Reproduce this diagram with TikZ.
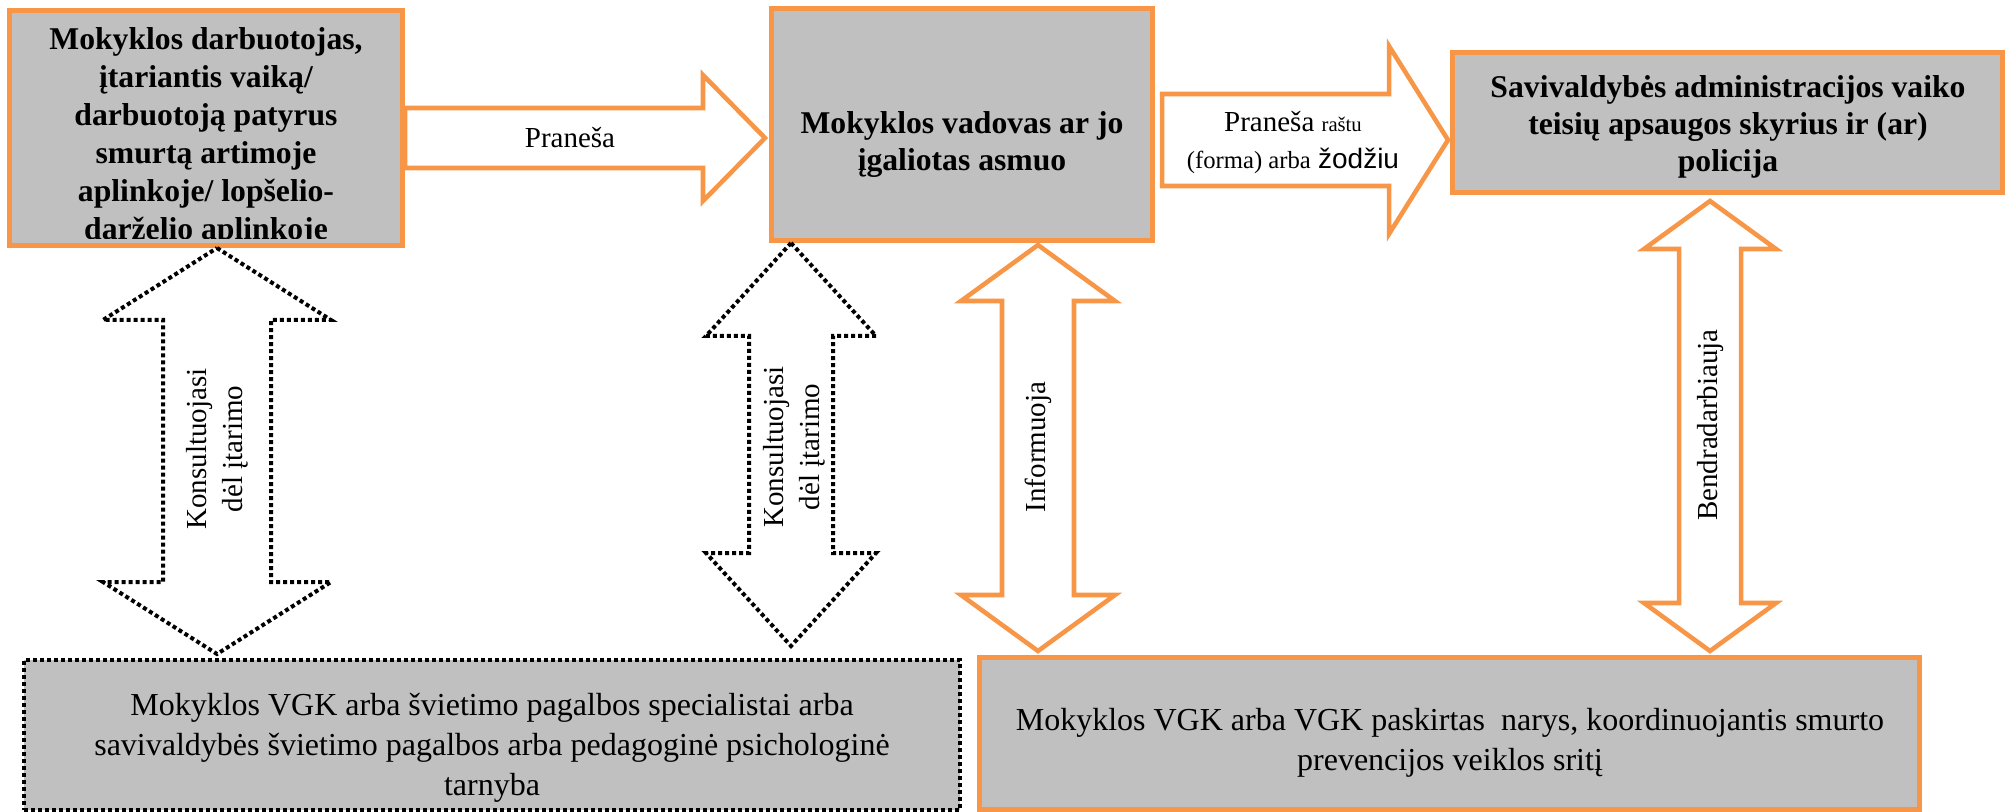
\documentclass[tikz,border=0pt]{standalone}
\usepackage{fontspec}
\setmainfont{Liberation Serif}
\newfontfamily\wordsans{Liberation Sans}
\usetikzlibrary{calc}
\definecolor{boxorange}{HTML}{F79646}
\definecolor{boxgrey}{HTML}{C0C0C0}

\tikzset{
  orangebox/.style={draw=boxorange, line width=3.75pt, fill=boxgrey, inner sep=0pt},
  dottedbox/.style={draw=black, line width=3pt, dash pattern=on 3pt off 2.25pt, fill=boxgrey, inner sep=0pt},
  orangearrow/.style={draw=boxorange, line width=3.4pt, fill=white},
  dottedarrow/.style={draw=black, line width=3pt, dash pattern=on 3pt off 2.25pt, fill=white},
  boldtext/.style={font=\fontsize{23.75}{27.75}\selectfont\bfseries, align=center, inner sep=0pt},
  plaintext/.style={font=\fontsize{24}{30}\selectfont, align=center, inner sep=0pt},
  sidetext/.style={font=\fontsize{21.75}{27}\selectfont, align=center, inner sep=0pt, rotate=90},
}

% right arrow: style, tail, tip, half shaft, half head, head length
\newcommand{\rightblock}[6]{%
  \draw[#1] ($(#2)+(0,-#4)$) -- ($(#3)+(-#6,-#4)$) -- ($(#3)+(-#6,-#5)$) -- (#3)
    -- ($(#3)+(-#6,#5)$) -- ($(#3)+(-#6,#4)$) -- ($(#2)+(0,#4)$) -- cycle;}
% up-down arrow: style, upper tip, lower tip, half shaft, half head, head length
\newcommand{\updownblock}[6]{%
  \draw[#1] (#2) -- ($(#2)+(#5,#6)$) -- ($(#2)+(#4,#6)$) -- ($(#3)+(#4,-#6)$) -- ($(#3)+(#5,-#6)$) -- (#3)
    -- ($(#3)+(-#5,-#6)$) -- ($(#3)+(-#4,-#6)$) -- ($(#2)+(-#4,#6)$) -- ($(#2)+(-#5,#6)$) -- cycle;}

\begin{document}
\begin{tikzpicture}[x=0.75pt,y=0.75pt,yscale=-1,xscale=1]
\useasboundingbox (0,0) rectangle (2008,812);

%Shape: Rectangle [school worker]
\node[orangebox, minimum width=294.75pt, minimum height=176.25pt] (box1) at (206,128) {};
\begin{scope}
  \clip (12,13) rectangle (400,239);
  % Text Node
  \node[boldtext, font=\fontsize{23.75}{28.5}\selectfont\bfseries] (t1) at (206,137) {Mokyklos darbuotojas,\\ įtariantis vaiką/\\ darbuotoją patyrus\\ smurtą artimoje\\ aplinkoje/ lopšelio-\\ darželio aplinkoje};
\end{scope}
%Shape: Rectangle [head of school]
\node[orangebox, minimum width=285.75pt, minimum height=174pt] (box2) at (962,124.5) {};
%Shape: Rectangle [municipality]
\node[orangebox, minimum width=412.5pt, minimum height=105pt] (box3) at (1727.5,122.5) {};
%Shape: Rectangle [support services]
\node[dottedbox, minimum width=702pt, minimum height=112.5pt] (box4) at (492,735) {};
%Shape: Rectangle [VGK]
\node[orangebox, minimum width=705pt, minimum height=114pt] (box5) at (1449.5,733.5) {};

% arrow ends
\coordinate (p1s) at (box1.east |- 0,138);
\coordinate (p1e) at ($(box2.west |- 0,138)+(-4,0)$);
\coordinate (p2s) at ($(box2.east |- 0,140)+(7,0)$);
\coordinate (p2e) at ($(box3.west |- 0,140)+(-2,0)$);
\coordinate (k1t) at (217,0 |- box1.south);
\coordinate (k1b) at ($(217,0 |- box4.north)+(0,-4)$);
\coordinate (k2t) at (791,0 |- box2.south);
\coordinate (k2b) at ($(791,0 |- box4.north)+(0,-12)$);
\coordinate (i1t) at ($(1038,0 |- box2.south)+(0,2)$);
\coordinate (i1b) at ($(1038,0 |- box5.north)+(0,-4)$);
\coordinate (b1t) at ($(1710,0 |- box3.south)+(0,6)$);
\coordinate (b1b) at ($(1710,0 |- box5.north)+(0,-4)$);

%Shape: Right Arrow
\rightblock{orangearrow}{p1s}{p1e}{30}{63}{62}
%Shape: Right Arrow
\rightblock{orangearrow}{p2s}{p2e}{46}{94}{59}
%Shape: Up Down Arrow
\updownblock{dottedarrow}{k1t}{k1b}{54}{114}{72}
%Shape: Up Down Arrow
\updownblock{dottedarrow}{k2t}{k2b}{42}{85}{93}
%Shape: Up Down Arrow
\updownblock{orangearrow}{i1t}{i1b}{36}{77}{56}
%Shape: Up Down Arrow
\updownblock{orangearrow}{b1t}{b1b}{31}{66}{48}

% Text Node
\node[boldtext] (t2) at (962,145) {Mokyklos vadovas ar jo\\ įgaliotas asmuo};
% Text Node
\node[boldtext] (t3) at (1728,127) {Savivaldybės administracijos vaiko\\ teisių apsaugos skyrius ir (ar)\\ policija};
% Text Node
\node[plaintext] (t4) at (492,748) {Mokyklos VGK arba švietimo pagalbos specialistai arba\\ savivaldybės švietimo pagalbos arba pedagoginė psichologinė\\ tarnyba};
% Text Node
\node[plaintext] (t5) at (1450,743) {Mokyklos VGK arba VGK paskirtas\ \ narys, koordinuojantis smurto\\ prevencijos veiklos sritį};

% Text Node
\node[font=\fontsize{21.75}{27.75}\selectfont, inner sep=0pt] (l1) at (570,138) {Praneša};
% Text Node
\node[font=\fontsize{21.75}{27.75}\selectfont, align=center, inner sep=0pt] (l2) at (1293,143) {Praneša {\fontsize{15.5}{20}\selectfont raštu}\\ {\fontsize{18.5}{20}\selectfont (forma) arba} {\wordsans\fontsize{21}{20}\selectfont žodžiu}};
% Text Node
\node[sidetext] (l3) at (217,449) {Konsultuojasi\\ dėl įtarimo};
% Text Node
\node[sidetext] (l4) at (794,447) {Konsultuojasi\\ dėl įtarimo};
% Text Node
\node[sidetext] (l5) at (1038,447) {Informuoja};
% Text Node
\node[sidetext] (l6) at (1710,425) {Bendradarbiauja};

\end{tikzpicture}
\end{document}
